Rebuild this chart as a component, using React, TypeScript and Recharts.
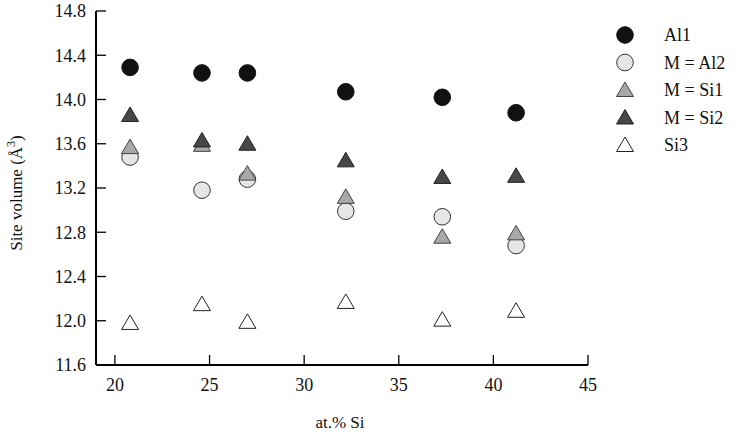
import React from "react";
import { ScatterChart, Scatter, XAxis, YAxis } from "recharts";

const SI_AT = [20.8, 24.6, 27.0, 32.2, 37.3, 41.2];
const AL1 = [14.29, 14.24, 14.24, 14.07, 14.02, 13.88];
const AL2 = [13.48, 13.18, 13.28, 12.99, 12.94, 12.68];
const SI1 = [13.57, 13.59, 13.33, 13.12, 12.76, 12.79];
const SI2 = [13.86, 13.63, 13.6, 13.45, 13.3, 13.31];
const SI3 = [11.98, 12.15, 11.99, 12.17, 12.01, 12.09];

const X_MAJOR = [20, 25, 30, 35, 40, 45];
const X_MINOR = [22.5, 27.5, 32.5, 37.5, 42.5];
const Y_MAJOR = [11.6, 12.0, 12.4, 12.8, 13.2, 13.6, 14.0, 14.4, 14.8];
const Y_MINOR = [11.8, 12.2, 12.6, 13.0, 13.4, 13.8, 14.2, 14.6];

const X_DOMAIN = [19, 45];
const Y_DOMAIN = [11.6, 14.8];

const FONT = "Liberation Serif";

const SERIES = [
  { name: "Al1", values: AL1, kind: "circle", fill: "#111111", stroke: "#111111" },
  { name: "M = Al2", values: AL2, kind: "circle", fill: "#e6e6e6", stroke: "#333333" },
  { name: "M = Si1", values: SI1, kind: "triangle", fill: "#a8a8a8", stroke: "#444444" },
  { name: "M = Si2", values: SI2, kind: "triangle", fill: "#474747", stroke: "#222222" },
  { name: "Si3", values: SI3, kind: "triangle", fill: "#ffffff", stroke: "#222222" },
];

function Marker(props: any) {
  const { cx, cy, kind, fill, stroke } = props;
  if (kind === "circle") {
    return <circle cx={cx} cy={cy} r={8.3} fill={fill} stroke={stroke} strokeWidth={1} />;
  }
  const pts = `${cx - 8.5},${cy + 6.5} ${cx + 8.5},${cy + 6.5} ${cx},${cy - 8}`;
  return <polygon points={pts} fill={fill} stroke={stroke} strokeWidth={1} />;
}

const tickFont = { fontFamily: FONT, fontSize: 18, fill: "#111" };
const tickLine = { stroke: "#000", strokeWidth: 1.3 };
const noLabel = () => "";

export default function App() {
  return (
    <div style={{ position: "absolute", left: 0, top: 0 }}>
      <ScatterChart width={738} height={434} margin={{ top: 11, right: 150, bottom: 0, left: 0 }}>
        {/* minor ticks first, zero size, so they sit on the plot edges */}
        <XAxis
          xAxisId="bottomMinor"
          type="number"
          dataKey="x"
          domain={X_DOMAIN}
          ticks={X_MINOR}
          interval={0}
          height={0}
          tickSize={-6}
          tickFormatter={noLabel}
          tickLine={tickLine}
          axisLine={false}
        />
        <XAxis
          xAxisId="bottom"
          type="number"
          dataKey="x"
          domain={X_DOMAIN}
          ticks={X_MAJOR}
          interval={0}
          height={69}
          tickSize={-10}
          tickMargin={23}
          tick={tickFont}
          tickLine={tickLine}
          axisLine={{ stroke: "#000", strokeWidth: 2 }}
        />
        <XAxis
          xAxisId="topMinor"
          orientation="top"
          type="number"
          dataKey="x"
          domain={X_DOMAIN}
          ticks={X_MINOR}
          interval={0}
          height={0}
          tickSize={-6}
          tickFormatter={noLabel}
          tickLine={tickLine}
          axisLine={false}
        />
        <XAxis
          xAxisId="top"
          orientation="top"
          type="number"
          dataKey="x"
          domain={X_DOMAIN}
          ticks={X_MAJOR}
          interval={0}
          height={0}
          tickSize={-10}
          tickFormatter={noLabel}
          tickLine={tickLine}
          axisLine={{ stroke: "#000", strokeWidth: 2 }}
        />
        <YAxis
          yAxisId="leftMinor"
          type="number"
          dataKey="y"
          domain={Y_DOMAIN}
          ticks={Y_MINOR}
          interval={0}
          width={0}
          tickSize={-6}
          tickFormatter={noLabel}
          tickLine={tickLine}
          axisLine={false}
        />
        <YAxis
          yAxisId="left"
          type="number"
          dataKey="y"
          domain={Y_DOMAIN}
          ticks={Y_MAJOR}
          interval={0}
          width={96}
          tickSize={-10}
          tickMargin={20}
          tick={tickFont}
          tickFormatter={(v: number) => v.toFixed(1)}
          tickLine={tickLine}
          axisLine={{ stroke: "#000", strokeWidth: 2 }}
        />
        <YAxis
          yAxisId="rightMinor"
          orientation="right"
          type="number"
          dataKey="y"
          domain={Y_DOMAIN}
          ticks={Y_MINOR}
          interval={0}
          width={0}
          tickSize={-6}
          tickFormatter={noLabel}
          tickLine={tickLine}
          axisLine={false}
        />
        <YAxis
          yAxisId="right"
          orientation="right"
          type="number"
          dataKey="y"
          domain={Y_DOMAIN}
          ticks={Y_MAJOR}
          interval={0}
          width={0}
          tickSize={-10}
          tickFormatter={noLabel}
          tickLine={tickLine}
          axisLine={{ stroke: "#000", strokeWidth: 2 }}
        />
        {SERIES.map((s) => (
          <Scatter
            key={s.name}
            name={s.name}
            xAxisId="bottom"
            yAxisId="left"
            data={SI_AT.map((x, i) => ({ x, y: s.values[i] }))}
            isAnimationActive={false}
            shape={(p: any) => <Marker cx={p.cx} cy={p.cy} kind={s.kind} fill={s.fill} stroke={s.stroke} />}
          />
        ))}
        {SERIES.map((s, i) => (
          <g key={"lg" + s.name}>
            <Marker cx={625} cy={35 + i * 27.5} kind={s.kind} fill={s.fill} stroke={s.stroke} />
            <text x={664} y={41 + i * 27.5} fontFamily={FONT} fontSize={18} fill="#111">
              {s.name}
            </text>
          </g>
        ))}
        <text x={22} y={193} transform="rotate(-90 22 193)" textAnchor="middle" fontFamily={FONT} fontSize={17} fill="#111">
          Site  volume (Å
          <tspan dy={-7} fontSize={12}>3</tspan>
          <tspan dy={7}>)</tspan>
        </text>
        <text x={340} y={428} textAnchor="middle" fontFamily={FONT} fontSize={17} fill="#111">
          at.% Si
        </text>
      </ScatterChart>
    </div>
  );
}
